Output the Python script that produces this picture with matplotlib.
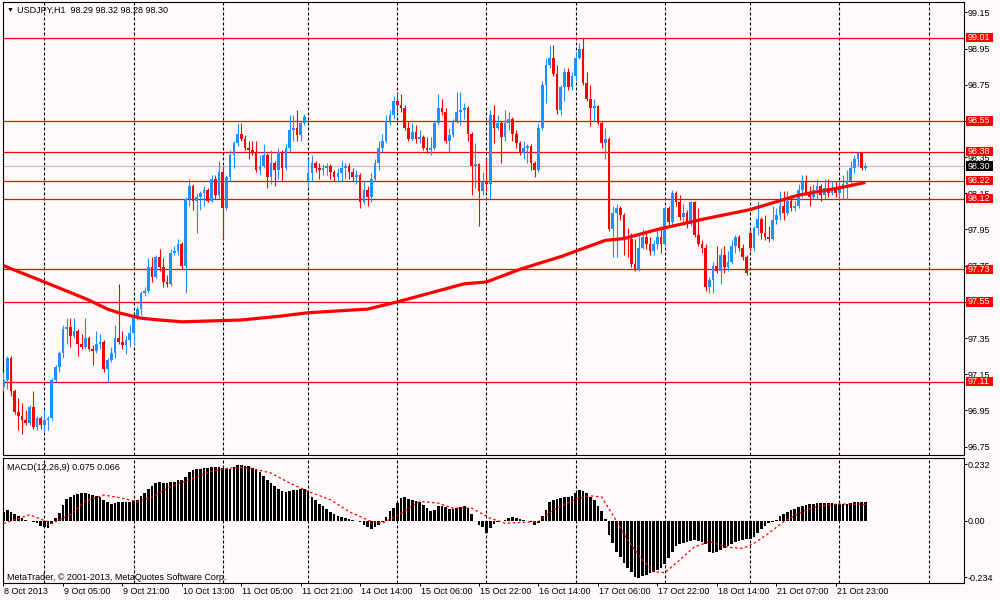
import matplotlib
matplotlib.use("Agg")
import matplotlib.pyplot as plt
import matplotlib.transforms as mtransforms
from matplotlib.patches import Rectangle
import numpy as np
import pandas as pd

plt.rcParams['font.family'] = ['Liberation Sans', 'DejaVu Sans']

# USDJPY H1 candles, 8 Oct 2013 13:00 .. 22 Oct 2013 07:00
opens = [
    97.08, 97.12, 97.24, 97.06, 96.94, 96.92, 96.90, 96.88, 96.97, 96.86,
    96.91, 96.87, 96.90, 96.91, 97.12, 97.19, 97.27, 97.40, 97.41, 97.36,
    97.39, 97.32, 97.30, 97.35, 97.29, 97.28, 97.32, 97.33, 97.18, 97.23,
    97.27, 97.35, 97.33, 97.31, 97.34, 97.38, 97.46, 97.51, 97.60, 97.61,
    97.74, 97.69, 97.80, 97.74, 97.66, 97.65, 97.82, 97.83, 97.87, 97.75,
    98.12, 98.19, 98.11, 98.13, 98.15, 98.17, 98.11, 98.23, 98.14, 98.27,
    98.07, 98.24, 98.36, 98.43, 98.48, 98.45, 98.40, 98.39, 98.38, 98.28,
    98.30, 98.36, 98.24, 98.32, 98.28, 98.38, 98.29, 98.40, 98.50, 98.51,
    98.47, 98.54, 98.22, 98.26, 98.32, 98.29, 98.28, 98.29, 98.30, 98.27,
    98.24, 98.26, 98.29, 98.30, 98.27, 98.24, 98.25, 98.10, 98.17, 98.13,
    98.23, 98.32, 98.40, 98.44, 98.55, 98.58, 98.66, 98.64, 98.62, 98.51,
    98.45, 98.49, 98.45, 98.46, 98.40, 98.39, 98.40, 98.54, 98.62, 98.60,
    98.44, 98.47, 98.55, 98.60, 98.61, 98.62, 98.48, 98.30, 98.31, 98.16,
    98.21, 98.20, 98.58, 98.51, 98.54, 98.46, 98.54, 98.56, 98.48, 98.43,
    98.37, 98.40, 98.41, 98.32, 98.28, 98.51, 98.75, 98.86, 98.90, 98.81,
    98.61, 98.74, 98.82, 98.74, 98.80, 98.90, 98.95, 98.76, 98.67, 98.62,
    98.63, 98.54, 98.43, 98.45, 97.95, 98.04, 98.07, 98.03, 97.91, 97.90,
    97.76, 97.73, 97.85, 97.91, 97.87, 97.83, 97.87, 97.91, 97.87, 98.07,
    97.99, 98.15, 98.10, 98.02, 98.04, 97.98, 98.10, 97.92, 97.87, 97.85,
    97.63, 97.67, 97.75, 97.72, 97.81, 97.74, 97.77, 97.86, 97.91, 97.85,
    97.80, 97.93, 97.85, 97.96, 98.01, 97.93, 97.91, 97.90, 98.00, 98.03,
    98.08, 98.04, 98.11, 98.07, 98.08, 98.17, 98.21, 98.15, 98.13, 98.17,
    98.19, 98.14, 98.18, 98.15, 98.18, 98.15, 98.18, 98.20, 98.22, 98.29,
    98.34, 98.37, 98.29,
]
highs = [
    97.16, 97.25, 97.25, 97.07, 97.02, 96.99, 96.95, 96.98, 97.06, 96.92,
    96.92, 96.95, 96.92, 97.13, 97.20, 97.28, 97.42, 97.46, 97.46, 97.46,
    97.40, 97.37, 97.46, 97.36, 97.31, 97.39, 97.37, 97.34, 97.24, 97.30,
    97.42, 97.65, 97.39, 97.36, 97.42, 97.48, 97.53, 97.61, 97.63, 97.79,
    97.80, 97.81, 97.84, 97.79, 97.70, 97.84, 97.86, 97.90, 97.88, 98.13,
    98.23, 98.20, 98.15, 98.16, 98.19, 98.18, 98.25, 98.25, 98.33, 98.30,
    98.25, 98.39, 98.44, 98.54, 98.54, 98.47, 98.44, 98.44, 98.44, 98.36,
    98.42, 98.37, 98.39, 98.33, 98.40, 98.39, 98.42, 98.58, 98.58, 98.61,
    98.55, 98.59, 98.34, 98.36, 98.33, 98.32, 98.31, 98.32, 98.31, 98.28,
    98.29, 98.33, 98.32, 98.32, 98.29, 98.28, 98.26, 98.22, 98.19, 98.26,
    98.34, 98.44, 98.48, 98.58, 98.61, 98.69, 98.71, 98.70, 98.64, 98.55,
    98.54, 98.53, 98.50, 98.47, 98.46, 98.46, 98.55, 98.70, 98.67, 98.62,
    98.51, 98.56, 98.71, 98.71, 98.65, 98.63, 98.49, 98.43, 98.32, 98.27,
    98.34, 98.61, 98.64, 98.58, 98.55, 98.61, 98.60, 98.57, 98.50, 98.44,
    98.44, 98.42, 98.42, 98.33, 98.54, 98.77, 98.90, 98.97, 98.97, 98.86,
    98.75, 98.84, 98.84, 98.82, 98.93, 98.98, 99.01, 98.82, 98.75, 98.67,
    98.64, 98.55, 98.51, 98.46, 98.08, 98.09, 98.08, 98.04, 97.96, 97.93,
    97.90, 97.92, 97.95, 97.93, 97.91, 97.89, 97.95, 97.97, 98.08, 98.08,
    98.17, 98.16, 98.14, 98.09, 98.06, 98.11, 98.11, 98.07, 97.89, 97.87,
    97.69, 97.77, 97.86, 97.85, 97.86, 97.83, 97.89, 97.92, 97.92, 97.87,
    97.81, 97.95, 97.97, 98.11, 98.02, 98.03, 97.97, 98.08, 98.07, 98.16,
    98.16, 98.16, 98.14, 98.11, 98.20, 98.25, 98.25, 98.19, 98.20, 98.23,
    98.20, 98.23, 98.23, 98.22, 98.22, 98.22, 98.25, 98.28, 98.33, 98.36,
    98.38, 98.38, 98.32,
]
lows = [
    97.06, 97.07, 97.03, 96.93, 96.84, 96.82, 96.87, 96.87, 96.85, 96.84,
    96.85, 96.83, 96.84, 96.90, 97.11, 97.16, 97.24, 97.32, 97.30, 97.35,
    97.25, 97.29, 97.29, 97.28, 97.20, 97.27, 97.29, 97.16, 97.11, 97.22,
    97.24, 97.32, 97.29, 97.26, 97.30, 97.31, 97.45, 97.48, 97.58, 97.60,
    97.66, 97.68, 97.72, 97.63, 97.63, 97.64, 97.81, 97.81, 97.73, 97.60,
    98.08, 98.06, 97.93, 98.06, 98.08, 98.10, 98.10, 98.12, 98.12, 97.90,
    98.06, 98.22, 98.29, 98.41, 98.44, 98.39, 98.34, 98.36, 98.27, 98.25,
    98.29, 98.18, 98.20, 98.19, 98.23, 98.22, 98.28, 98.38, 98.44, 98.44,
    98.44, 98.53, 98.18, 98.22, 98.27, 98.23, 98.25, 98.25, 98.23, 98.22,
    98.21, 98.22, 98.23, 98.23, 98.22, 98.20, 98.07, 98.09, 98.08, 98.10,
    98.22, 98.28, 98.38, 98.43, 98.53, 98.56, 98.60, 98.60, 98.50, 98.44,
    98.44, 98.43, 98.43, 98.39, 98.37, 98.36, 98.39, 98.53, 98.58, 98.43,
    98.38, 98.46, 98.54, 98.53, 98.56, 98.44, 98.14, 98.18, 97.97, 98.14,
    98.16, 98.12, 98.43, 98.50, 98.32, 98.44, 98.50, 98.44, 98.40, 98.36,
    98.34, 98.32, 98.28, 98.24, 98.27, 98.50, 98.65, 98.84, 98.80, 98.59,
    98.58, 98.66, 98.72, 98.72, 98.77, 98.89, 98.75, 98.66, 98.52, 98.55,
    98.53, 98.40, 98.34, 97.94, 97.80, 97.80, 98.00, 97.81, 97.80, 97.74,
    97.72, 97.72, 97.84, 97.84, 97.81, 97.81, 97.84, 97.82, 97.86, 97.97,
    97.97, 98.08, 98.00, 97.99, 97.96, 97.97, 97.91, 97.86, 97.82, 97.61,
    97.60, 97.60, 97.71, 97.65, 97.71, 97.72, 97.76, 97.82, 97.83, 97.78,
    97.70, 97.83, 97.83, 97.92, 97.90, 97.89, 97.88, 97.89, 97.98, 98.00,
    98.00, 98.03, 98.05, 98.05, 98.07, 98.13, 98.14, 98.08, 98.12, 98.12,
    98.11, 98.12, 98.13, 98.14, 98.13, 98.12, 98.12, 98.12, 98.20, 98.26,
    98.30, 98.28, 98.28,
]
closes = [
    97.12, 97.24, 97.06, 96.94, 96.92, 96.90, 96.88, 96.97, 96.86, 96.91,
    96.87, 96.90, 96.91, 97.12, 97.19, 97.27, 97.40, 97.41, 97.36, 97.39,
    97.32, 97.30, 97.35, 97.29, 97.28, 97.32, 97.33, 97.18, 97.23, 97.27,
    97.35, 97.33, 97.31, 97.34, 97.38, 97.46, 97.51, 97.60, 97.61, 97.74,
    97.69, 97.80, 97.74, 97.66, 97.65, 97.82, 97.83, 97.87, 97.75, 98.12,
    98.19, 98.11, 98.13, 98.15, 98.17, 98.11, 98.23, 98.14, 98.27, 98.07,
    98.24, 98.36, 98.43, 98.48, 98.45, 98.40, 98.39, 98.38, 98.28, 98.30,
    98.36, 98.24, 98.32, 98.28, 98.38, 98.29, 98.40, 98.50, 98.51, 98.47,
    98.54, 98.57, 98.26, 98.32, 98.29, 98.28, 98.29, 98.30, 98.27, 98.24,
    98.26, 98.29, 98.30, 98.27, 98.24, 98.25, 98.10, 98.17, 98.13, 98.23,
    98.32, 98.40, 98.44, 98.55, 98.58, 98.66, 98.64, 98.62, 98.51, 98.45,
    98.49, 98.45, 98.46, 98.40, 98.39, 98.40, 98.54, 98.62, 98.60, 98.44,
    98.47, 98.55, 98.60, 98.61, 98.62, 98.48, 98.30, 98.31, 98.16, 98.21,
    98.20, 98.58, 98.51, 98.54, 98.46, 98.54, 98.56, 98.48, 98.43, 98.37,
    98.40, 98.41, 98.32, 98.28, 98.51, 98.75, 98.86, 98.90, 98.81, 98.61,
    98.74, 98.82, 98.74, 98.80, 98.90, 98.95, 98.76, 98.67, 98.62, 98.63,
    98.54, 98.43, 98.45, 97.95, 98.04, 98.07, 98.03, 97.91, 97.90, 97.76,
    97.73, 97.85, 97.91, 97.87, 97.83, 97.87, 97.91, 97.87, 98.07, 97.99,
    98.15, 98.10, 98.02, 98.04, 97.98, 98.10, 97.92, 97.87, 97.85, 97.63,
    97.67, 97.75, 97.72, 97.81, 97.74, 97.77, 97.86, 97.91, 97.85, 97.80,
    97.71, 97.85, 97.96, 98.01, 97.93, 97.91, 97.90, 98.00, 98.03, 98.08,
    98.04, 98.11, 98.07, 98.08, 98.17, 98.21, 98.15, 98.13, 98.17, 98.19,
    98.14, 98.18, 98.15, 98.18, 98.15, 98.18, 98.20, 98.22, 98.29, 98.34,
    98.37, 98.29, 98.30,
]

# moving average, read at sample bars
ma_bars = [0, 11, 17, 23, 28, 31, 37, 42, 48, 64, 74, 82, 98, 106, 124, 130,
           139, 150, 154, 162, 167, 176, 189, 201, 214, 225, 232]
ma_values = [97.75, 97.66, 97.61, 97.56, 97.51, 97.49, 97.46, 97.45, 97.44,
             97.45, 97.47, 97.49, 97.51, 97.55, 97.65, 97.66, 97.73, 97.80,
             97.83, 97.89, 97.90, 97.95, 98.01, 98.06, 98.14, 98.18, 98.21]

levels = [99.01, 98.55, 98.38, 98.22, 98.12, 97.73, 97.55, 97.11]
bid = 98.30
price_ticks = [96.75, 96.95, 97.15, 97.35, 97.55, 97.75, 97.95, 98.15,
               98.35, 98.55, 98.75, 98.95, 99.15]

# MACD(12,26,9) main line (histogram) and signal
macd = [
    0.037, 0.044, 0.037, 0.028, 0.019, 0.010, 0.003, 0.000, -0.004, -0.011,
    -0.022, -0.028, -0.032, -0.014, 0.010, 0.033, 0.065, 0.088, 0.097, 0.106,
    0.110, 0.113, 0.113, 0.110, 0.106, 0.102, 0.097, 0.083, 0.075, 0.069,
    0.072, 0.075, 0.076, 0.075, 0.075, 0.079, 0.086, 0.102, 0.113, 0.130,
    0.141, 0.155, 0.159, 0.155, 0.155, 0.157, 0.161, 0.168, 0.166, 0.179,
    0.199, 0.207, 0.213, 0.214, 0.217, 0.217, 0.221, 0.219, 0.221, 0.217,
    0.213, 0.213, 0.221, 0.228, 0.230, 0.226, 0.224, 0.217, 0.210, 0.199,
    0.182, 0.168, 0.155, 0.141, 0.130, 0.120, 0.116, 0.120, 0.124, 0.127,
    0.130, 0.130, 0.120, 0.097, 0.083, 0.069, 0.061, 0.047, 0.037, 0.028,
    0.019, 0.014, 0.010, 0.006, 0.003, 0.000, -0.008, -0.018, -0.028, -0.036,
    -0.028, -0.018, -0.004, 0.014, 0.041, 0.051, 0.072, 0.092, 0.097, 0.088,
    0.083, 0.079, 0.075, 0.065, 0.051, 0.041, 0.044, 0.058, 0.058, 0.055,
    0.047, 0.047, 0.051, 0.054, 0.058, 0.051, 0.028, 0.000, -0.018, -0.028,
    -0.050, -0.032, -0.014, -0.004, -0.001, 0.003, 0.010, 0.014, 0.010, 0.006,
    0.003, 0.000, -0.008, -0.018, -0.011, 0.017, 0.044, 0.075, 0.086, 0.088,
    0.092, 0.099, 0.099, 0.102, 0.113, 0.127, 0.120, 0.113, 0.099, 0.086,
    0.062, 0.040, 0.005, -0.059, -0.094, -0.128, -0.152, -0.177, -0.195, -0.211,
    -0.232, -0.235, -0.229, -0.225, -0.218, -0.211, -0.204, -0.197, -0.179, -0.156,
    -0.128, -0.105, -0.097, -0.091, -0.087, -0.083, -0.080, -0.083, -0.087, -0.097,
    -0.128, -0.132, -0.128, -0.121, -0.115, -0.105, -0.097, -0.090, -0.083, -0.080,
    -0.077, -0.075, -0.066, -0.052, -0.036, -0.022, -0.011, -0.004, 0.003, 0.017,
    0.028, 0.037, 0.044, 0.048, 0.054, 0.061, 0.065, 0.068, 0.068, 0.072,
    0.072, 0.072, 0.072, 0.072, 0.069, 0.069, 0.068, 0.068, 0.072, 0.075,
    0.078, 0.078, 0.075,
]
sig_bars = [0, 7, 13, 18, 22, 27, 31, 36, 40, 45, 50, 56, 61, 66, 72, 77, 82,
            88, 93, 99, 102, 107, 112, 117, 121, 126, 131, 135, 139, 144, 148,
            154, 158, 161, 164, 168, 172, 175, 178, 182, 186, 190, 195, 199,
            202, 206, 210, 215, 219, 224, 228, 232]
sig_values = [-0.012, 0.024, -0.012, 0.025, 0.080, 0.105, 0.095, 0.078, 0.098,
              0.140, 0.168, 0.203, 0.217, 0.218, 0.196, 0.155, 0.120, 0.086,
              0.037, -0.004, -0.011, 0.030, 0.079, 0.072, 0.051, 0.051, 0.010,
              -0.011, -0.008, -0.004, 0.044, 0.088, 0.102, 0.097, 0.023,
              -0.080, -0.163, -0.211, -0.215, -0.163, -0.108, -0.087, -0.110,
              -0.115, -0.094, -0.052, -0.004, 0.037, 0.058, 0.068, 0.068, 0.066]
macd_ticks = [0.232, 0.0, -0.234]
macd_tick_labels = ["0.232", "0.00", "-0.234"]

time_labels = ["8 Oct 2013", "9 Oct 05:00", "9 Oct 21:00", "10 Oct 13:00",
               "11 Oct 05:00", "11 Oct 21:00", "14 Oct 14:00", "15 Oct 06:00",
               "15 Oct 22:00", "16 Oct 14:00", "17 Oct 06:00", "17 Oct 22:00",
               "18 Oct 14:00", "21 Oct 07:00", "21 Oct 23:00"]

BG = '#FFFAFA'
BLUE = '#1E90FF'
RED = '#FF0000'

n = len(closes)
x = np.arange(n)
o = np.array(opens)
c = np.array(closes)
h = np.array(highs)
l = np.array(lows)

# hourly bars skip the weekend (market shut Fri 23:00 .. Mon 00:00)
times = pd.date_range("2013-10-08 13:00", "2013-10-22 07:00", freq="h")
times = times[(times.weekday < 5) & ~((times.weekday == 4) & (times.hour == 23))][:n]
day_starts = list(x[times.hour == 0])
day_starts.append(day_starts[-1] + 24)

fig = plt.figure(figsize=(10, 6), dpi=100, facecolor=BG)
left, width = 2.7 / 1000, (963.5 - 2.7) / 1000
ax = fig.add_axes([left, 1 - 455 / 600, width, (455 - 1.7) / 600], facecolor=BG)
axm = fig.add_axes([left, 1 - 583.3 / 600, width, (583.3 - 458.3) / 600], facecolor=BG)

for a in (ax, axm):
    a.set_xlim(-0.215, 258.4)
    for s in a.spines.values():
        s.set_color('black')
        s.set_linewidth(0.8)
    for d in day_starts:
        a.axvline(d, color='black', lw=0.8, ls=(0, (2.7, 1.8)), zorder=1)

# price panel
ax.set_ylim(96.704, 99.2086)
for lv in levels:
    ax.axhline(lv, color=RED, lw=0.9, zorder=2)
ax.axhline(bid, color='#C0C0C0', lw=0.9, zorder=2)

colors = np.where(c >= o, BLUE, RED)
ax.vlines(x, l, h, colors=colors, lw=0.8, zorder=3)
ax.bar(x, np.maximum(np.abs(c - o), 0.004), bottom=np.minimum(o, c),
       width=0.72, color=colors, lw=0, zorder=3)
ax.plot(ma_bars, ma_values, color=RED, lw=2.3, zorder=4, solid_capstyle='butt')

ax.set_xticks([])
ax.yaxis.tick_right()
ax.set_yticks(price_ticks)
ax.set_yticklabels([f"{t:.2f}" for t in price_ticks])
ax.tick_params(axis='y', direction='out', length=2.2, width=0.7, pad=1.1, labelsize=6.5)

trans = mtransforms.blended_transform_factory(ax.transAxes, ax.transData)
box_x0 = (965.7 - 2.7) / 960.8
box_w = 27.6 / 960.8
box_h = 9.5 / 181
txt_x = (967.5 - 2.7) / 960.8
for lv, fc in [(v, RED) for v in levels] + [(bid, 'black')]:
    ax.add_patch(Rectangle((box_x0, lv - box_h / 2), box_w, box_h, transform=trans,
                           facecolor=fc, edgecolor='none', clip_on=False, zorder=9))
    ax.text(txt_x, lv, f"{lv:.2f}", transform=trans, ha='left', va='center',
            color='white', fontsize=6.5, zorder=10, clip_on=False)

# MACD panel
axm.set_ylim(-0.2587, 0.2567)
axm.bar(x, macd, width=0.72, color='black', lw=0, zorder=3)
axm.plot(sig_bars, sig_values, color=RED, lw=0.9, ls=(0, (2, 2)), zorder=4)
axm.yaxis.tick_right()
axm.set_yticks(macd_ticks)
axm.set_yticklabels(macd_tick_labels)
axm.tick_params(axis='y', direction='out', length=2.2, width=0.7, pad=1.1, labelsize=6.5)

axm.set_xticks(x[::16][:len(time_labels)])
axm.set_xticklabels(time_labels)
axm.tick_params(axis='x', direction='out', length=2.2, width=0.7, pad=0.6, labelsize=6.5)
shift = mtransforms.ScaledTranslation(1 / 100, 0, fig.dpi_scale_trans)
for lbl in axm.get_xticklabels():
    lbl.set_horizontalalignment('left')
    lbl.set_transform(lbl.get_transform() + shift)

fig.text(7 / 1000, 1 - 10 / 600, "\u25bc", fontsize=5, va='center')
fig.text(17 / 1000, 1 - 10 / 600, "USDJPY,H1  98.29 98.32 98.28 98.30",
         fontsize=6.5, va='center')
fig.text(6.7 / 1000, 1 - 467 / 600, "MACD(12,26,9) 0.075 0.066", fontsize=6.5, va='center')
fig.text(6.7 / 1000, 1 - 577 / 600, "MetaTrader, \u00a9 2001-2013, MetaQuotes Software Corp.",
         fontsize=6.5, va='center')

fig.savefig("out.png", dpi=100, facecolor=BG)
